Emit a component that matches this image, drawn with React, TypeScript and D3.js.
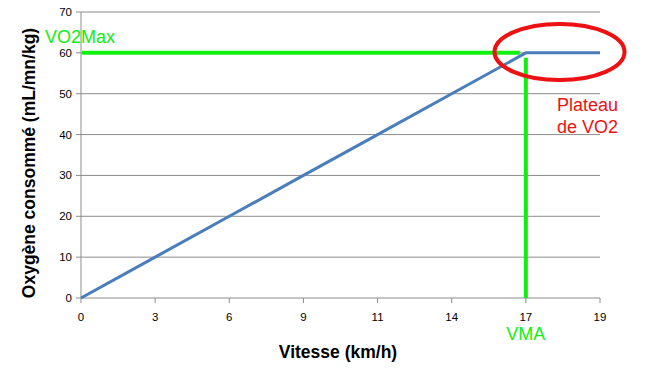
import React from "react";
import * as d3 from "d3";

const categories = ["0", "3", "6", "9", "11", "14", "17", "19"];
const vo2Values = [0, 10, 20, 30, 40, 50, 60, 60];
const yTicks = [0, 10, 20, 30, 40, 50, 60, 70];
const vo2Max = 60;
const vmaCategory = "17";

const W = 655, H = 377;
const left = 81, right = 600, top = 12, bottom = 298;
const font = "'Liberation Sans', Arial, sans-serif";
const green = "#10f010";

export default function App() {
  const x = d3.scalePoint<string>().domain(categories).range([left, right]);
  const y = d3.scaleLinear().domain([0, 70]).range([bottom, top]);
  const line = d3.line<number>().x((_, i) => x(categories[i])!).y((d) => y(d));
  const vx = x(vmaCategory)!;
  const yMax = y(vo2Max);
  return (
    <svg width={W} height={H} style={{ position: "absolute", left: 0, top: 0 }}>
      <rect width={W} height={H} fill="#fff" />
      {yTicks.map((t) => (
        <g key={t}>
          <line x1={left} x2={right} y1={y(t)} y2={y(t)} stroke="#8c8c8c" strokeWidth={1} />
          <line x1={left - 5} x2={left} y1={y(t)} y2={y(t)} stroke="#8c8c8c" />
          <text x={left - 9} y={y(t) + 4} textAnchor="end" fontSize={11.5} fontFamily={font} fill="#000">{t}</text>
        </g>
      ))}
      <line x1={left} x2={left} y1={top} y2={bottom} stroke="#8c8c8c" />
      {categories.map((c) => (
        <g key={c}>
          <line x1={x(c)} x2={x(c)} y1={bottom} y2={bottom + 5} stroke="#8c8c8c" />
          <text x={x(c)} y={bottom + 23} textAnchor="middle" fontSize={11.5} fontFamily={font} fill="#000">{c}</text>
        </g>
      ))}
      <path d={line(vo2Values)!} fill="none" stroke="#4a7ebb" strokeWidth={3} />
      <line x1={left + 1} x2={vx - 6} y1={yMax} y2={yMax} stroke={green} strokeWidth={4} />
      <line x1={vx} x2={vx} y1={yMax + 5} y2={bottom} stroke={green} strokeWidth={4} />
      <ellipse cx={559.5} cy={52} rx={65} ry={28} fill="none" stroke="#ee1111" strokeWidth={4} />
      <text x={45} y={43} fontSize={18} fontFamily={font} fill={green}>VO2Max</text>
      <text x={vx} y={340} textAnchor="middle" fontSize={18} fontFamily={font} fill={green}>VMA</text>
      <text x={557} y={111} fontSize={18} fontFamily={font} fill="#ee1111">Plateau</text>
      <text x={557} y={133} fontSize={18} fontFamily={font} fill="#ee1111">de VO2</text>
      <text x={338} y={358} textAnchor="middle" fontSize={17.5} fontWeight="bold" fontFamily={font} fill="#000">Vitesse (km/h)</text>
      <text transform={`translate(35,163) rotate(-90)`} textAnchor="middle" fontSize={17.5} fontWeight="bold" fontFamily={font} fill="#000">Oxygène consommé (mL/mn/kg)</text>
    </svg>
  );
}
